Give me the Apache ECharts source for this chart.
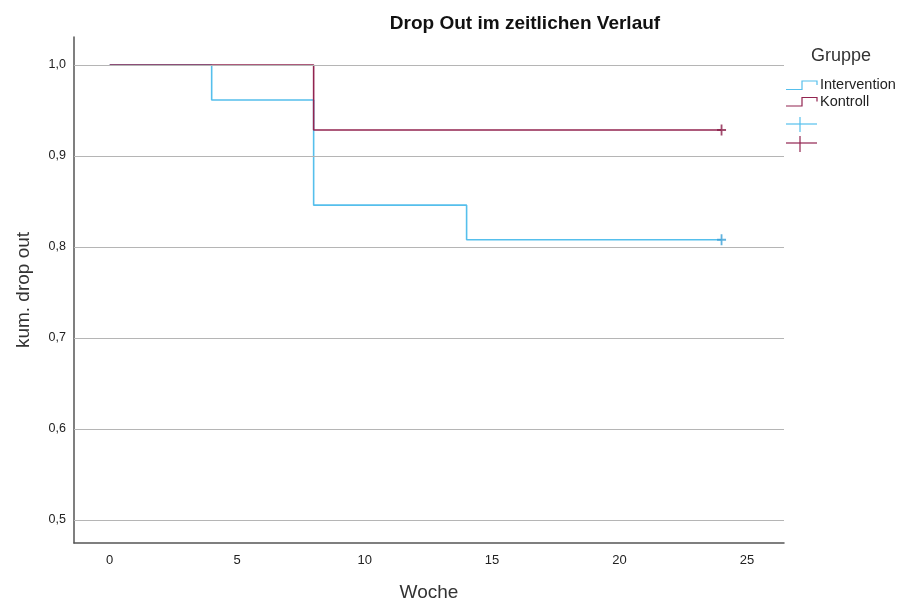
<!DOCTYPE html>
<html>
<head>
<meta charset="utf-8">
<script src="https://cdn.jsdelivr.net/npm/echarts@6/dist/echarts.min.js"></script>
<style>html,body{margin:0;padding:0;background:#fff;}#c{width:902px;height:602px;}</style>
</head>
<body>
<div id="c"></div>
<script>
// Data
const interventionSteps = [[0, 1.0], [4, 0.9615], [8, 0.846], [14, 0.808], [24, 0.808]];
const kontrollSteps = [[0, 1.0], [8, 0.9286], [24, 0.9286]];
const interventionCensor = [[24, 0.808]];
const kontrollCensor = [[24, 0.9286]];
const xTicks = [0, 5, 10, 15, 20, 25];
const yTicks = [0.5, 0.6, 0.7, 0.8, 0.9, 1.0];
const groupNames = ['Intervention', 'Kontroll'];

const BLUE = '#55bfec';
const RED = '#922450';
const BLUE_C = '#3a9fd6';
const RED_C = '#8a1e48';
const FONT = 'Liberation Sans, Arial, sans-serif';
const PLUS = 'path://M4,0 L6,0 L6,4 L10,4 L10,6 L6,6 L6,10 L4,10 L4,6 L0,6 L0,4 L4,4 Z';

const chart = echarts.init(document.getElementById('c'));

const stepIcon = (yTop, yBot, color) => ({
  type: 'polyline',
  shape: { points: [[786, yBot], [802, yBot], [802, yTop], [817, yTop], [817, yTop + 4]] },
  style: { stroke: color, lineWidth: 1.2, fill: null }
});
const legendText = (text, y) => ({
  type: 'text',
  style: { text: text, x: 820, y: y, align: 'left', verticalAlign: 'middle',
    fontFamily: FONT, fontSize: 14.5, fill: '#222' }
});

chart.setOption({
  animation: false,
  backgroundColor: '#fff',
  title: {
    text: 'Drop Out im zeitlichen Verlauf',
    left: 520, top: 9, textAlign: 'center',
    textStyle: { fontFamily: FONT, fontSize: 19, fontWeight: 'bold', color: '#111' }
  },
  grid: { left: 74, right: 118, top: 37, bottom: 59, outerBoundsMode: 'none', containLabel: false },
  xAxis: {
    type: 'value', min: -1.4, max: 26.45,
    name: 'Woche', nameLocation: 'middle', nameGap: 40,
    nameTextStyle: { fontFamily: FONT, fontSize: 19, color: '#333' },
    axisLine: { show: true, onZero: false, lineStyle: { color: '#555', width: 1.5 } },
    axisTick: { show: false },
    splitLine: { show: false },
    axisLabel: { customValues: xTicks, fontFamily: FONT, fontSize: 13, color: '#222', margin: 11 }
  },
  yAxis: {
    type: 'value', min: 0.4747, max: 1.0308,
    name: 'kum. drop out', nameLocation: 'middle', nameGap: 41, nameRotate: 90,
    nameTextStyle: { fontFamily: FONT, fontSize: 19, color: '#333' },
    axisLine: { show: true, onZero: false, lineStyle: { color: '#555', width: 1.5 } },
    axisTick: { show: false },
    splitLine: { show: false },
    axisLabel: { customValues: yTicks, fontFamily: FONT, fontSize: 12.5, color: '#222', margin: 8,
      formatter: v => v.toFixed(1).replace('.', ',') }
  },
  series: [
    {
      type: 'line', name: 'grid', data: [], silent: true,
      markLine: {
        silent: true, symbol: 'none', label: { show: false },
        lineStyle: { color: '#b5b5b5', width: 1, type: 'solid' },
        data: yTicks.map(v => ({ yAxis: v }))
      }
    },
    {
      type: 'line', name: groupNames[0], data: interventionSteps, step: 'end',
      showSymbol: false, lineStyle: { color: BLUE, width: 1.6 }, z: 3
    },
    {
      type: 'line', name: groupNames[1], data: kontrollSteps, step: 'end',
      showSymbol: false, lineStyle: { color: RED, width: 1.6 }, z: 4
    },
    {
      type: 'scatter', name: 'censorI', data: interventionCensor,
      symbol: PLUS, symbolSize: [9, 11], itemStyle: { color: BLUE_C }, z: 5
    },
    {
      type: 'scatter', name: 'censorK', data: kontrollCensor,
      symbol: PLUS, symbolSize: [9, 11], itemStyle: { color: RED_C }, z: 5
    }
  ],
  graphic: [
    { type: 'text', style: { text: 'Gruppe', x: 811, y: 56, align: 'left', verticalAlign: 'middle',
      fontFamily: FONT, fontSize: 18, fill: '#333' } },
    stepIcon(81, 89.5, BLUE),
    legendText(groupNames[0], 85),
    stepIcon(97.5, 106, RED),
    legendText(groupNames[1], 102),
    { type: 'polyline', shape: { points: [[786, 124], [817, 124]] }, style: { stroke: BLUE, lineWidth: 1.2 } },
    { type: 'polyline', shape: { points: [[800, 117], [800, 132]] }, style: { stroke: BLUE, lineWidth: 1.2 } },
    { type: 'polyline', shape: { points: [[786, 143], [817, 143]] }, style: { stroke: RED, lineWidth: 1.2 } },
    { type: 'polyline', shape: { points: [[800, 136], [800, 152]] }, style: { stroke: RED, lineWidth: 1.2 } }
  ]
});
</script>
</body>
</html>
